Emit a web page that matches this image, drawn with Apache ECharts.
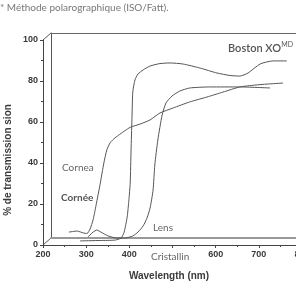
<!DOCTYPE html>
<html lang="fr">
<head>
    <meta charset="UTF-8">
    <title>Transmission</title>
    <script src="https://cdn.jsdelivr.net/npm/echarts@6/dist/echarts.min.js"></script>
    <style>
        html, body { margin: 0; padding: 0; background: #fff; }
        #chart { width: 296px; height: 289px; }
    </style>
</head>
<body>
<div id="chart"></div>
<script>
  // tick labels
  var xTicks = [200, 300, 400, 500, 600, 700, 800];
  var yTicks = [0, 20, 40, 60, 80, 100];

  // Cornea / Cornée
  var corneaNm = [260, 279, 293, 302, 309, 316, 323, 332, 341, 348, 356, 367, 378, 390, 402, 425, 448, 471, 501, 540, 580, 617, 656, 691, 719, 756];
  var corneaT = [6.3, 6.8, 5.9, 5.6, 7.8, 12.2, 19.5, 29.3, 40, 46.5, 50, 52.3, 54, 55.8, 57.4, 59, 61, 64.4, 66.8, 69.8, 72.2, 74.6, 77.1, 78, 78.5, 79];

  // Lens / Cristallin
  var lensNm = [304, 316, 325, 334, 351, 371, 390, 408, 420, 432, 441, 448, 455, 459, 466, 476, 485, 499, 517, 540, 587, 656, 726];
  var lensT = [3.9, 6.3, 7.3, 6.3, 4.4, 3.4, 3.4, 4.4, 6.3, 9.3, 13.2, 18, 26.8, 39, 51.2, 63.4, 69.3, 72.7, 75.1, 76.6, 77.1, 77.1, 76.6];

  // Boston XO
  var bostonNm = [286, 332, 367, 381, 388, 395, 399, 402, 404, 406, 408, 413, 420, 432, 448, 471, 494, 524, 564, 603, 633, 656, 675, 703, 733, 765];
  var bostonT = [2, 2.2, 2.4, 3.4, 6.3, 13.7, 22, 30.2, 46.3, 61, 74.6, 80.5, 83.4, 85.4, 87.3, 88.5, 88.8, 88.3, 86.3, 83.9, 82.7, 82.4, 83.9, 88.3, 89.8, 89.8];

  function pairs(xs, ys) {
    var out = [];
    for (var i = 0; i < xs.length; i++) {
      out.push([xs[i], ys[i]]);
    }
    return out;
  }

  // front axes and back wall (3D box look)
  var front = {left: 43, top: 40, bottom: 44};
  var back = {left: 51, top: 33, bottom: 51};
  var lineColor = '#555';
  var tickFont = {
    fontFamily: 'Liberation Sans',
    fontSize: 9,
    fontWeight: 'bold',
    color: '#3a3a3a'
  };

  function lineSeries(name, xs, ys) {
    return {
      name: name,
      type: 'line',
      xAxisIndex: 0,
      yAxisIndex: 0,
      data: pairs(xs, ys),
      showSymbol: false,
      smooth: 0.2,
      silent: true,
      lineStyle: {color: lineColor, width: 1}
    };
  }

  var options = {
    animation: false,
    grid: [
      {left: front.left, top: front.top, right: -6, bottom: front.bottom, outerBoundsMode: 'none', containLabel: false},
      {left: back.left, top: back.top, right: -6, bottom: back.bottom, outerBoundsMode: 'none', containLabel: false}
    ],
    xAxis: [
      {
        gridIndex: 0,
        type: 'value',
        min: xTicks[0],
        max: xTicks[xTicks.length - 1],
        interval: 100,
        axisLine: {lineStyle: {color: '#444', width: 1}},
        axisTick: {length: 3, lineStyle: {color: '#444'}},
        minorTick: {show: true, splitNumber: 2, length: 2, lineStyle: {color: '#444'}},
        splitLine: {show: false},
        axisLabel: Object.assign({
          margin: 5,
          hideOverlap: false,
          formatter: function(v) {
            return v === 500 ? '' : String(v);
          }
        }, tickFont)
      },
      {
        gridIndex: 1,
        type: 'value',
        position: 'bottom',
        min: 200, max: 800,
        axisLine: {lineStyle: {color: '#999', width: 2}},
        axisTick: {show: false},
        axisLabel: {show: false},
        splitLine: {show: false}
      },
      {
        gridIndex: 1,
        type: 'value',
        position: 'top',
        min: 200, max: 800,
        axisLine: {show: true, lineStyle: {color: '#666', width: 1}},
        axisTick: {show: false},
        axisLabel: {show: false},
        splitLine: {show: false}
      }
    ],
    yAxis: [
      {
        gridIndex: 0,
        type: 'value',
        min: yTicks[0],
        max: yTicks[yTicks.length - 1],
        interval: 20,
        axisLine: {show: true, lineStyle: {color: '#444', width: 1}},
        axisTick: {show: true, length: 3, lineStyle: {color: '#444'}},
        minorTick: {show: true, splitNumber: 2, length: 2, lineStyle: {color: '#444'}},
        splitLine: {show: false},
        axisLabel: Object.assign({margin: 5}, tickFont)
      },
      {
        gridIndex: 1,
        type: 'value',
        min: 0, max: 100,
        axisLine: {show: true, lineStyle: {color: '#555', width: 1}},
        axisTick: {show: false},
        axisLabel: {show: false},
        splitLine: {show: false}
      }
    ],
    graphic: [
      // box corners
      {type: 'line', shape: {x1: front.left, y1: front.top, x2: back.left, y2: back.top}, style: {stroke: '#555', lineWidth: 1}},
      {type: 'line', shape: {x1: front.left, y1: 289 - front.bottom, x2: back.left, y2: 289 - back.bottom}, style: {stroke: '#555', lineWidth: 1}},
      {
        type: 'text', left: 0, top: 3,
        style: {text: '* Méthode polarographique (ISO/Fatt).', fontFamily: 'Lato', fontSize: 10, fill: '#777'}
      },
      {
        type: 'text', x: 8, y: 160, rotation: Math.PI / 2,
        style: {
          text: '% de transmission sion', fontFamily: 'Liberation Sans', fontWeight: 'bold', fontSize: 10,
          fill: '#3a3a3a', align: 'center', verticalAlign: 'middle'
        }
      },
      {
        type: 'text', x: 169, y: 276,
        style: {
          text: 'Wavelength (nm)', fontFamily: 'Liberation Sans', fontWeight: 'bold', fontSize: 10,
          fill: '#3a3a3a', align: 'center', verticalAlign: 'middle'
        }
      },
      {
        type: 'text', x: 62, y: 168,
        style: {text: 'Cornea', fontFamily: 'Lato', fontSize: 10, fill: '#666', verticalAlign: 'middle'}
      },
      {
        type: 'text', x: 61, y: 198,
        style: {text: 'Cornée', fontFamily: 'Lato', fontWeight: 'bold', fontSize: 10, fill: '#555', verticalAlign: 'middle'}
      },
      {
        type: 'text', x: 153, y: 228,
        style: {text: 'Lens', fontFamily: 'Lato', fontSize: 10, fill: '#666', verticalAlign: 'middle'}
      },
      {
        type: 'text', x: 151, y: 257,
        style: {text: 'Cristallin', fontFamily: 'Lato', fontSize: 10, fill: '#666', verticalAlign: 'middle'}
      },
      {
        type: 'text', x: 228, y: 48,
        style: {
          text: '{a|Boston XO}{b|MD}',
          verticalAlign: 'middle',
          rich: {
            a: {fontFamily: 'Lato', fontWeight: 600, fontSize: 11, fill: '#555'},
            b: {fontFamily: 'Lato', fontSize: 7, fill: '#555', verticalAlign: 'top', padding: [0, 0, 6, 0]}
          }
        }
      }
    ],
    series: [
      lineSeries('Cornea', corneaNm, corneaT),
      lineSeries('Lens', lensNm, lensT),
      lineSeries('Boston XO', bostonNm, bostonT)
    ]
  };

  var myChart = echarts.init(document.getElementById('chart'));
  myChart.setOption(options);
</script>
</body>
</html>
